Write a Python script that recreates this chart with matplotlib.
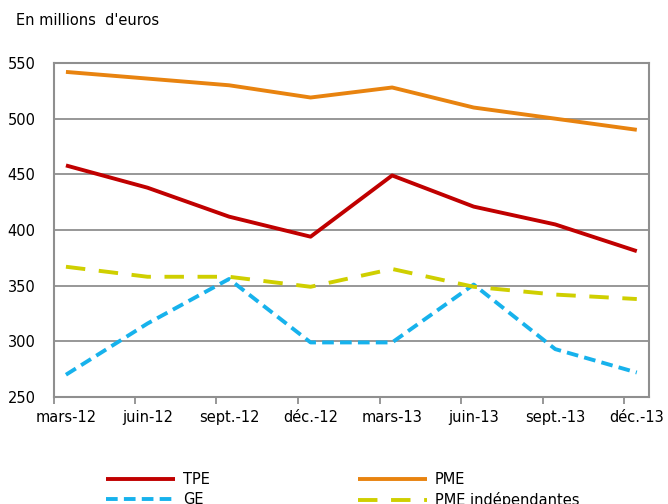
import matplotlib.pyplot as plt
import numpy as np

# données (en millions d'euros)
periodes = ['mars-12', 'juin-12', 'sept.-12', 'déc.-12', 'mars-13', 'juin-13', 'sept.-13', 'déc.-13']
tpe = [458, 438, 412, 394, 449, 421, 405, 381]
pme = [542, 536, 530, 519, 528, 510, 500, 490]
ge = [270, 316, 356, 299, 299, 351, 293, 272]
pme_indep = [367, 358, 358, 349, 365, 349, 342, 338]

plt.rcParams['font.family'] = ['DejaVu Sans']
gris = '#8f8f8f'

fig = plt.figure(figsize=(6.68, 5.04), dpi=100)
ax = fig.add_axes([0.0804, 0.2123, 0.8912, 0.6627])

x = np.arange(len(periodes))
lw = 2.8
ax.plot(x, tpe, color='#C00000', lw=lw, label='TPE', solid_capstyle='butt')
ax.plot(x, ge, color='#17B2EC', lw=lw, label='GE', dashes=(3, 1.6))
ax.plot(x, pme, color='#E8830F', lw=lw, label='PME', solid_capstyle='butt')
ax.plot(x, pme_indep, color='#CFCF00', lw=lw, label='PME indépendantes', dashes=(5, 3.5))

ax.set_xlim(-0.15, 7.15)
ax.set_ylim(250, 550)
ax.set_yticks(range(250, 551, 50))
ax.yaxis.grid(True, color=gris, lw=1.3)
ax.set_axisbelow(True)
ax.tick_params(axis='y', length=0, pad=13, labelsize=10.5)

# étiquettes au milieu, graduations décalées comme dans Excel
ax.set_xticks(x)
ax.set_xticklabels(periodes)
ax.set_xticks(np.concatenate([[-0.15], x[:-1] + 0.845]), minor=True)
ax.tick_params(axis='x', which='major', length=0, pad=9, labelsize=10.5)
ax.tick_params(axis='x', which='minor', length=5, width=1.3, color=gris)

for s in ax.spines.values():
    s.set_color(gris)
    s.set_linewidth(1.5)

fig.text(0.024, 0.96, "En millions  d'euros", fontsize=10.5, va='center')

fig.legend(ncol=2, loc='upper left', bbox_to_anchor=(0.159, 0.063),
           bbox_transform=fig.transFigure, frameon=False, fontsize=10.5,
           handlelength=4.7, handletextpad=0.55, columnspacing=10.2,
           labelspacing=0.35, borderaxespad=0, borderpad=0)

fig.savefig('out.png', dpi=100)
